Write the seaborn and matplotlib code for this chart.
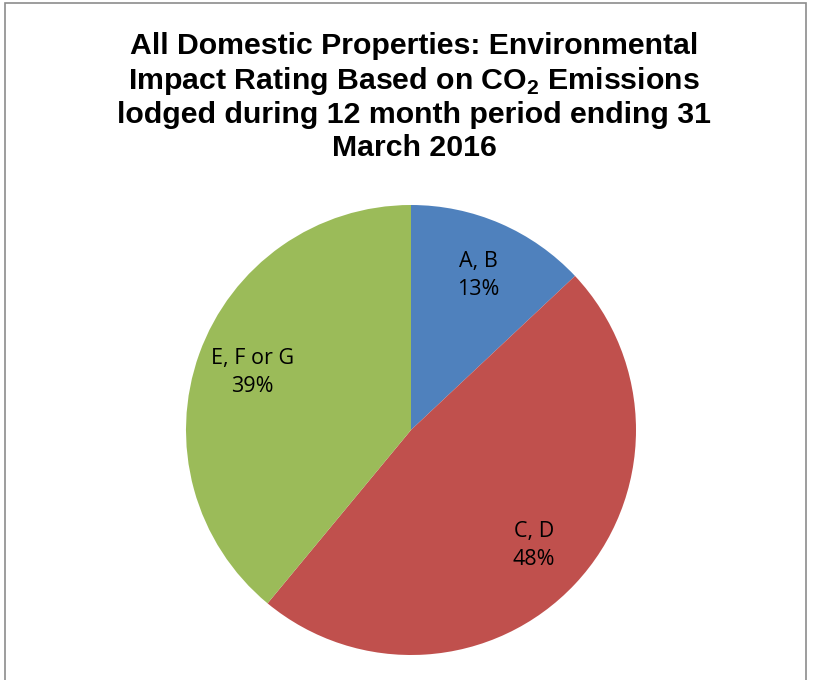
import matplotlib
matplotlib.use('Agg')
import matplotlib.pyplot as plt
import numpy as np
import seaborn as sns
from matplotlib.patches import Rectangle

# Chart data
categories = ['A, B', 'C, D', 'E, F or G']
shares = [13, 48, 39]
colors = ['#4F81BD', '#C0504D', '#9BBB59']

sns.set_theme(style='white')
plt.rcParams['font.family'] = ['Liberation Sans', 'DejaVu Sans']
plt.rcParams['mathtext.fontset'] = 'custom'
plt.rcParams['mathtext.rm'] = 'Liberation Sans:bold'
plt.rcParams['mathtext.bf'] = 'Liberation Sans:bold'

W, H = 813, 680
fig = plt.figure(figsize=(W / 100, H / 100), dpi=100)

# gray chart border (bottom edge cut off in the reference)
fig.patches.append(Rectangle((5 / W, -0.05), 801 / W, 1.05 - 3 / H,
                             transform=fig.transFigure, fill=False,
                             edgecolor='#8c8c8c', linewidth=1.2))

# pie centre (411, 430) px, radius 225 px
cx, cy, r = 411, 430, 225
ax = fig.add_axes([(cx - r) / W, (H - cy - r) / H, 2 * r / W, 2 * r / H])
wedges, _ = ax.pie(shares, colors=colors, startangle=90, counterclock=False,
                   radius=1, wedgeprops=dict(linewidth=0))
ax.set_xlim(-1, 1)
ax.set_ylim(-1, 1)
ax.set_aspect('equal')
ax.axis('off')

for w, name, val in zip(wedges, categories, shares):
    ang = np.deg2rad((w.theta1 + w.theta2) / 2)
    d = 0.75
    ax.text(d * np.cos(ang), d * np.sin(ang), f'{name}\n{val}%',
            ha='center', va='center', fontsize=15.5, linespacing=1.45,
            family=['Open Sans', 'DejaVu Sans'], color='black')

title = ('All Domestic Properties: Environmental\n'
         'Impact Rating Based on CO$_2$ Emissions\n'
         'lodged during 12 month period ending 31\n'
         'March 2016')
fig.text(414 / W, 1 - 97 / H, title, ha='center', va='center',
         fontsize=21.8, fontweight='bold', linespacing=1.2, color='black',
         family=['Liberation Sans', 'DejaVu Sans'])

fig.savefig('out.png', dpi=100)
